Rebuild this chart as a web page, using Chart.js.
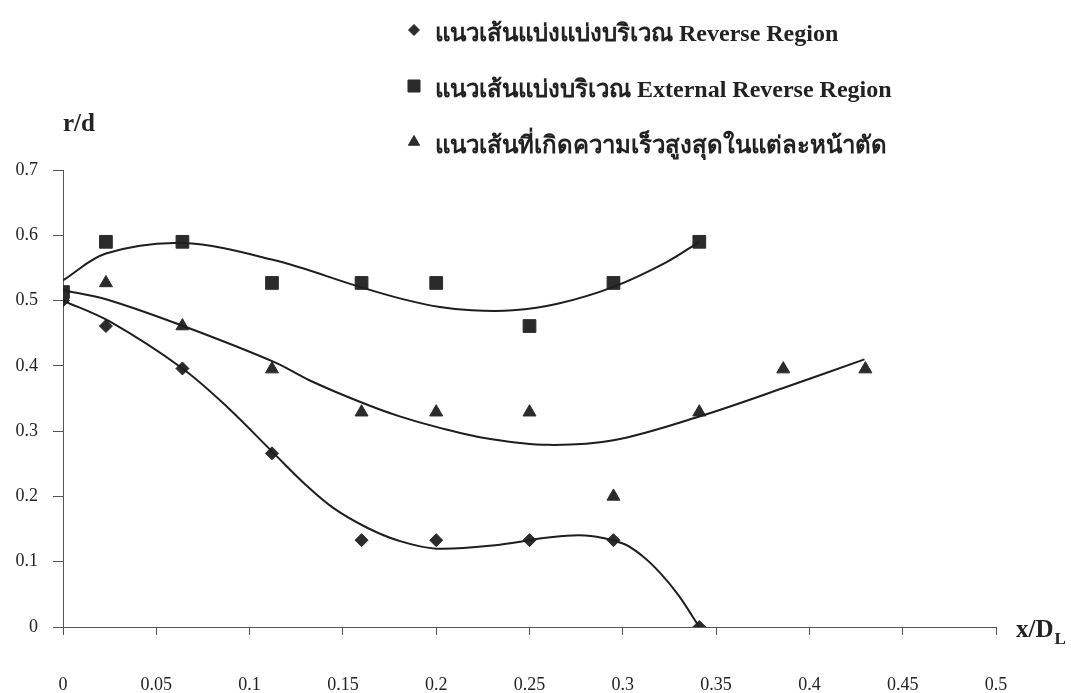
<!DOCTYPE html>
<html>
<head>
<meta charset="utf-8">
<script src="https://cdn.jsdelivr.net/npm/chart.js@4.4.1/dist/chart.umd.min.js"></script>
<style>
  html, body { margin: 0; padding: 0; background: #fff; }
  #wrap { width: 1071px; height: 693px; }
</style>
</head>
<body>
<div id="wrap"><canvas id="chartRegion" width="1071" height="693"></canvas></div>
<script>
// Legend texts
const seriesNames = [
    'แนวเส้นแบ่งแบ่งบริเวณ Reverse Region',
    'แนวเส้นแบ่งบริเวณ External Reverse Region',
    'แนวเส้นที่เกิดความเร็วสูงสุดในแต่ละหน้าตัด'
];

// Tick labels
const xTickLabels = ['0', '0.05', '0.1', '0.15', '0.2', '0.25', '0.3', '0.35', '0.4', '0.45', '0.5'];
const yTickLabels = ['0', '0.1', '0.2', '0.3', '0.4', '0.5', '0.6', '0.7'];

// Measured points
const reverseX = [0, 0.023, 0.064, 0.112, 0.16, 0.2, 0.25, 0.295, 0.341];
const reverseY = [0.5, 0.461, 0.396, 0.266, 0.133, 0.133, 0.133, 0.133, 0];

const externalX = [0, 0.023, 0.064, 0.112, 0.16, 0.2, 0.25, 0.295, 0.341];
const externalY = [0.513, 0.59, 0.59, 0.527, 0.527, 0.527, 0.461, 0.527, 0.59];

const maxVelX = [0.023, 0.064, 0.112, 0.16, 0.2, 0.25, 0.295, 0.341, 0.386, 0.43];
const maxVelY = [0.527, 0.461, 0.395, 0.329, 0.329, 0.329, 0.2, 0.329, 0.395, 0.395];

// Trend lines
const reverseFitX = [0, 0.025, 0.064, 0.088, 0.113, 0.13, 0.145, 0.163, 0.18, 0.2, 0.234, 0.26, 0.28, 0.3, 0.31, 0.32, 0.33, 0.341];
const reverseFitY = [0.5, 0.468, 0.396, 0.337, 0.266, 0.218, 0.182, 0.152, 0.132, 0.12, 0.126, 0.137, 0.14, 0.128, 0.11, 0.083, 0.048, 0];

const externalFitX = [0, 0.023, 0.064, 0.113, 0.159, 0.181, 0.202, 0.219, 0.241, 0.265, 0.295, 0.3235, 0.341];
const externalFitY = [0.531, 0.572, 0.588, 0.562, 0.521, 0.503, 0.49, 0.485, 0.485, 0.495, 0.521, 0.559, 0.59];

const maxVelFitX = [0, 0.023, 0.063, 0.113, 0.132, 0.159, 0.18, 0.202, 0.229, 0.26, 0.295, 0.3405, 0.386, 0.4295];
const maxVelFitY = [0.516, 0.502, 0.4625, 0.406, 0.378, 0.345, 0.323, 0.305, 0.288, 0.279, 0.286, 0.322, 0.366, 0.41];

const toPts = (xs, ys) => xs.map((x, i) => ({ x: x, y: ys[i] }));

const ink = '#2b2b2b';
const axisColor = '#555';
const serif = '"Liberation Serif", "Times New Roman", serif';

// legend + axis titles
const extraText = {
    id: 'extraText',
    afterDraw(chart) {
        const { ctx } = chart;
        ctx.save();
        ctx.fillStyle = '#222';
        ctx.textBaseline = 'alphabetic';
        ctx.textAlign = 'left';

        // axis titles
        ctx.font = 'bold 25px ' + serif;
        ctx.fillText('r/d', 63, 131);
        ctx.fillText('x/D', 1016, 637);
        const w = ctx.measureText('x/D').width;
        ctx.font = 'bold 17px ' + serif;
        ctx.fillText('L', 1016 + w + 1, 644);

        // legend
        const styles = [
            { style: 'rectRot', r: 5.5 },
            { style: 'rect', r: 8.5 },
            { style: 'triangle', r: 6.5 }
        ];
        const rows = [30, 86, 142];
        ctx.font = 'bold 24px ' + serif;
        seriesNames.forEach((name, i) => {
            ctx.fillStyle = ink;
            ctx.strokeStyle = ink;
            ctx.lineWidth = 1;
            Chart.helpers.drawPoint(ctx, { pointStyle: styles[i].style, radius: styles[i].r, rotation: 0, borderWidth: 1 }, 414, rows[i]);
            ctx.fillStyle = '#222';
            ctx.fillText(name, 435, rows[i] + 11);
        });
        ctx.restore();
    }
};

const whiteBg = {
    id: 'whiteBg',
    beforeDraw(chart) {
        const { ctx } = chart;
        ctx.save();
        ctx.fillStyle = '#fff';
        ctx.fillRect(0, 0, chart.width, chart.height);
        ctx.restore();
    }
};

const lineStyle = {
    type: 'line',
    showLine: true,
    borderColor: '#1e1e1e',
    borderWidth: 2,
    pointRadius: 0,
    fill: false,
    tension: 0.35
};

const markerStyle = (style, r) => ({
    type: 'scatter',
    showLine: false,
    pointStyle: style,
    pointRadius: r,
    pointHoverRadius: r,
    backgroundColor: ink,
    borderColor: ink,
    borderWidth: 1
});

const graphArea = document.getElementById('chartRegion');

new Chart(graphArea, {
    data: {
        datasets: [
            Object.assign({ label: 'fit1', data: toPts(reverseFitX, reverseFitY) }, lineStyle),
            Object.assign({ label: 'fit2', data: toPts(externalFitX, externalFitY) }, lineStyle),
            Object.assign({ label: 'fit3', data: toPts(maxVelFitX, maxVelFitY) }, lineStyle),
            Object.assign({ label: seriesNames[2], data: toPts(maxVelX, maxVelY) }, markerStyle('triangle', 7.5)),
            Object.assign({ label: seriesNames[1], data: toPts(externalX, externalY) }, markerStyle('rect', 9)),
            Object.assign({ label: seriesNames[0], data: toPts(reverseX, reverseY) }, markerStyle('rectRot', 6.5))
        ]
    },
    options: {
        responsive: false,
        animation: false,
        layout: {
            padding: { left: 0, top: 170, right: 75, bottom: 0 }
        },
        plugins: {
            legend: { display: false },
            tooltip: { enabled: false }
        },
        scales: {
            x: {
                type: 'linear',
                min: 0,
                max: 0.5,
                afterFit: scale => { scale.height = 66; },
                ticks: {
                    stepSize: 0.05,
                    padding: 39,
                    color: '#222',
                    font: { family: serif, size: 18 },
                    maxRotation: 0,
                    autoSkip: false,
                    callback: (v, i) => xTickLabels[i]
                },
                grid: {
                    drawOnChartArea: false,
                    drawTicks: true,
                    tickLength: 8,
                    color: axisColor
                },
                border: { display: true, color: axisColor, width: 1 }
            },
            y: {
                type: 'linear',
                min: 0,
                max: 0.7,
                afterFit: scale => { scale.width = 63; },
                ticks: {
                    stepSize: 0.1,
                    padding: 15,
                    color: '#222',
                    font: { family: serif, size: 18 },
                    autoSkip: false,
                    callback: (v, i) => yTickLabels[i]
                },
                grid: {
                    drawOnChartArea: false,
                    drawTicks: true,
                    tickLength: 10,
                    color: axisColor
                },
                border: { display: true, color: axisColor, width: 1 }
            }
        }
    },
    plugins: [whiteBg, extraText]
});
</script>
</body>
</html>
